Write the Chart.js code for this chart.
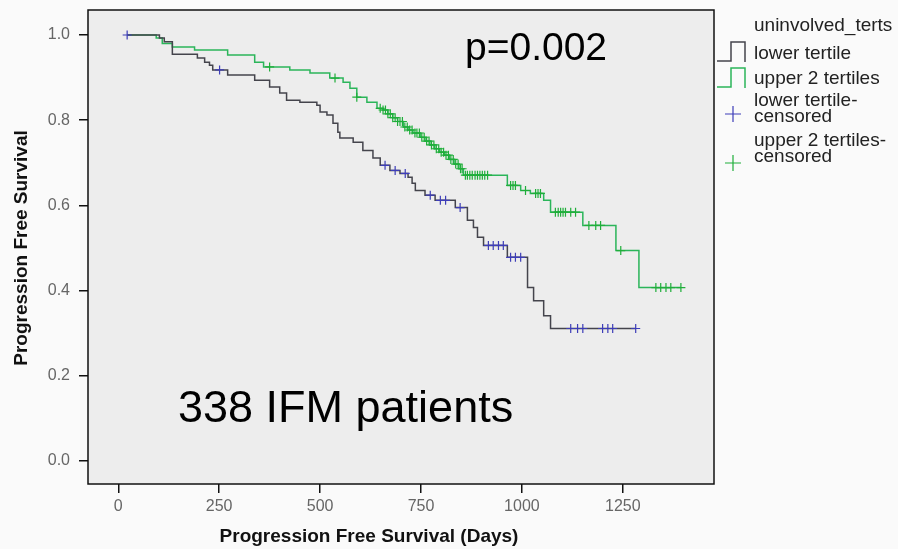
<!DOCTYPE html>
<html><head><meta charset="utf-8">
<script src="https://cdn.jsdelivr.net/npm/chart.js@4.4.0/dist/chart.umd.min.js"></script>
<style>
html,body{margin:0;padding:0;background:#fafafa;}
#wrap{position:relative;width:898px;height:549px;overflow:hidden;}
#c{position:absolute;left:0;top:0;}
.lg{position:absolute;left:754px;font-family:"Liberation Sans",Arial,sans-serif;font-size:19px;line-height:16px;color:#222;white-space:nowrap;}
.ic{position:absolute;}
</style></head><body>
<div id="wrap">
<canvas id="c" width="898" height="549"></canvas>
<div class="lg" style="top:17px">uninvolved_terts</div>
<svg class="ic" style="left:714px;top:38px" width="36" height="60">
 <polyline points="3,23 17,23 17,4 31,4 31,24" fill="none" stroke="#44444c" stroke-width="1.5"/>
 <polyline points="3,49 17,49 17,30 31,30 31,50" fill="none" stroke="#2bb55a" stroke-width="1.5"/>
</svg>
<div class="lg" style="top:45px">lower tertile</div>
<div class="lg" style="top:70px">upper 2 tertiles</div>
<svg class="ic" style="left:724px;top:104px" width="18" height="70">
 <path d="M9,2 V18 M1,10 H17" stroke="#3d3db8" stroke-width="1.2" fill="none"/>
 <path d="M9,51 V67 M1,59 H17" stroke="#1fae3a" stroke-width="1.2" fill="none"/>
</svg>
<div class="lg" style="top:92px">lower tertile-<br>censored</div>
<div class="lg" style="top:132px">upper 2 tertiles-<br>censored</div>
</div>
<script>
// ---- data (days, survival) ----
const xTicks = [0, 250, 500, 750, 1000, 1250];
const yTicks = [0, 0.2, 0.4, 0.6, 0.8, 1.0];

const lowerTimes = [22, 102, 114, 134, 196, 214, 226, 234, 271, 338, 375, 400, 417, 450, 492, 500, 517, 532, 544, 549, 582, 606, 631, 649, 673, 698, 718, 728, 736, 760, 785, 835, 865, 880, 890, 905, 964, 1014, 1029, 1054, 1071, 1282];
const lowerSurv  = [1.0, 0.993, 0.984, 0.955, 0.946, 0.936, 0.929, 0.918, 0.906, 0.894, 0.878, 0.864, 0.847, 0.842, 0.835, 0.819, 0.812, 0.793, 0.772, 0.758, 0.748, 0.729, 0.711, 0.694, 0.682, 0.675, 0.666, 0.652, 0.635, 0.624, 0.612, 0.595, 0.565, 0.548, 0.525, 0.506, 0.478, 0.407, 0.376, 0.341, 0.311, 0.311];
const lowerCensored = [22, 251, 661, 686, 711, 773, 798, 811, 847, 917, 929, 942, 954, 972, 984, 997, 1121, 1138, 1151, 1200, 1213, 1225, 1282];

const upperTimes = [22, 94, 109, 134, 189, 271, 338, 360, 425, 475, 524, 557, 574, 591, 616, 641, 656, 668, 680, 692, 706, 718, 730, 748, 760, 772, 784, 796, 808, 820, 832, 844, 855, 964, 997, 1021, 1054, 1071, 1151, 1233, 1290, 1394];
const upperSurv  = [1.0, 0.993, 0.98, 0.972, 0.965, 0.953, 0.936, 0.925, 0.918, 0.911, 0.899, 0.889, 0.875, 0.854, 0.842, 0.828, 0.824, 0.815, 0.806, 0.797, 0.784, 0.777, 0.770, 0.760, 0.751, 0.742, 0.733, 0.725, 0.718, 0.708, 0.697, 0.686, 0.671, 0.647, 0.635, 0.628, 0.612, 0.584, 0.553, 0.494, 0.407, 0.407];
const upperCensored = [375, 537, 591, 649, 656, 662, 668, 674, 680, 686, 692, 698, 704, 710, 716, 722, 728, 735, 740, 746, 752, 758, 764, 770, 776, 782, 788, 794, 800, 806, 812, 818, 824, 830, 836, 842, 848, 852, 860, 865, 871, 877, 884, 890, 896, 902, 908, 915, 972, 978, 984, 1009, 1034, 1040, 1046, 1083, 1090, 1096, 1102, 1108, 1121, 1133, 1166, 1183, 1195, 1245, 1332, 1344, 1357, 1369, 1394];

// ---- helpers ----
const steps = (t, s) => t.map((x, i) => ({x: x, y: s[i]}));
function survAt(t, s, d) { let v = s[0]; for (let i = 0; i < t.length; i++) { if (t[i] <= d) v = s[i]; } return v; }
const marks = (c, t, s) => c.map(d => ({x: d, y: survAt(t, s, d)}));

const FONT = '"Liberation Sans", Arial, sans-serif';

const decor = {
  id: 'decor',
  beforeDraw(chart) {
    const {ctx, chartArea: a} = chart;
    ctx.save();
    ctx.fillStyle = '#fafafa';
    ctx.fillRect(0, 0, chart.width, chart.height);
    ctx.fillStyle = '#ededed';
    ctx.fillRect(a.left, a.top, a.right - a.left, a.bottom - a.top);
    ctx.restore();
  },
  afterDraw(chart) {
    const {ctx, chartArea: a} = chart;
    ctx.save();
    ctx.strokeStyle = '#111';
    ctx.lineWidth = 1.5;
    ctx.strokeRect(a.left, a.top, a.right - a.left, a.bottom - a.top);
    ctx.fillStyle = '#000';
    ctx.textBaseline = 'alphabetic';
    ctx.textAlign = 'left';
    ctx.font = '39px ' + FONT;
    ctx.fillText('p=0.002', 465, 60);
    ctx.font = '45px ' + FONT;
    ctx.fillText('338 IFM patients', 178, 422);
    ctx.fillStyle = '#111';
    ctx.font = 'bold 19px ' + FONT;
    ctx.textAlign = 'center';
    ctx.textBaseline = 'middle';
    ctx.fillText('Progression Free Survival (Days)', 369, 537);
    ctx.translate(22, 248);
    ctx.rotate(-Math.PI / 2);
    ctx.fillText('Progression Free Survival', 0, 0);
    ctx.restore();
  }
};

new Chart(document.getElementById('c'), {
  type: 'line',
  data: {
    datasets: [
      {label: 'lower tertile-censored', type: 'scatter', data: marks(lowerCensored, lowerTimes, lowerSurv), showLine: false,
       pointStyle: 'cross', pointRadius: 4.5, borderColor: '#3d3db8', borderWidth: 1.2, order: 0},
      {label: 'upper 2 tertiles-censored', type: 'scatter', data: marks(upperCensored, upperTimes, upperSurv), showLine: false,
       pointStyle: 'cross', pointRadius: 4.5, borderColor: '#1fae3a', borderWidth: 1.2, order: 0},
      {label: 'lower tertile', data: steps(lowerTimes, lowerSurv), stepped: true, borderColor: '#44444c', borderWidth: 1.5,
       pointRadius: 0, fill: false, order: 1},
      {label: 'upper 2 tertiles', data: steps(upperTimes, upperSurv), stepped: true, borderColor: '#2bb55a', borderWidth: 1.5,
       pointRadius: 0, fill: false, order: 1}
    ]
  },
  options: {
    responsive: false,
    animation: false,
    events: [],
    layout: {padding: {left: 0, right: 184, top: 10, bottom: 0}},
    plugins: {legend: {display: false}, tooltip: {enabled: false}},
    scales: {
      x: {
        type: 'linear', min: -75, max: 1476,
        afterBuildTicks: s => { s.ticks = xTicks.map(v => ({value: v})); },
        afterFit: s => { s.height = 65; s.paddingLeft = 0; s.paddingRight = 0; },
        grid: {drawOnChartArea: false, drawTicks: true, tickLength: 9, color: '#111', lineWidth: 1.5},
        border: {display: false},
        ticks: {color: '#666', font: {family: FONT, size: 16}, padding: 4, maxRotation: 0, autoSkip: false,
                callback: v => String(v)}
      },
      y: {
        type: 'linear', min: -0.054, max: 1.0587,
        afterBuildTicks: s => { s.ticks = yTicks.map(v => ({value: v})); },
        afterFit: s => { s.width = 88; s.paddingTop = 0; s.paddingBottom = 0; },
        grid: {drawOnChartArea: false, drawTicks: true, tickLength: 9, color: '#111', lineWidth: 1.5},
        border: {display: false},
        ticks: {color: '#666', font: {family: FONT, size: 16}, padding: 9, callback: v => v.toFixed(1)}
      }
    }
  },
  plugins: [decor]
});
</script>
</body></html>
